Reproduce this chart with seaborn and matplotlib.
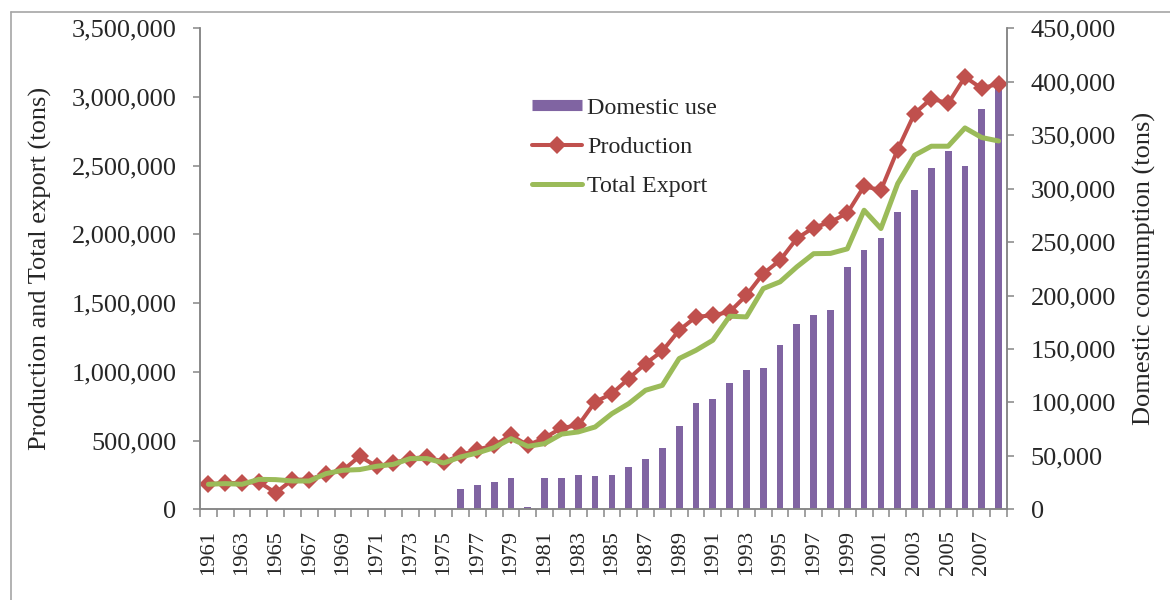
import matplotlib
matplotlib.use("Agg")
import matplotlib.pyplot as plt
from matplotlib.lines import Line2D
from matplotlib.ticker import FuncFormatter, FixedLocator
import seaborn as sns
import pandas as pd
import numpy as np

years = list(range(1961, 2009))

production = [
    182000, 191000, 191000, 199000, 120000, 216000, 216000, 260000, 284000, 386000,
    313000, 337000, 369000, 381000, 344000, 393000, 434000, 466000, 539000, 466000,
    520000, 592000, 611000, 781000, 842000, 951000, 1060000, 1152000, 1303000, 1400000,
    1412000, 1436000, 1557000, 1715000, 1812000, 1971000, 2050000, 2090000, 2155000, 2351000,
    2322000, 2618000, 2880000, 2989000, 2953000, 3146000, 3062000, 3098000,
]

total_export = [
    182000, 187000, 182000, 218000, 216000, 206000, 206000, 260000, 284000, 289000,
    313000, 327000, 369000, 369000, 337000, 381000, 410000, 449000, 514000, 458000,
    478000, 547000, 563000, 599000, 696000, 769000, 866000, 902000, 1097000, 1157000,
    1230000, 1405000, 1400000, 1606000, 1655000, 1764000, 1860000, 1862000, 1895000, 2176000,
    2043000, 2370000, 2576000, 2642000, 2642000, 2775000, 2705000, 2680000,
]

domestic_use = [
    0, 0, 0, 0, 0, 0, 0, 0, 0, 0, 0, 0, 0, 0, 0,
    19300, 22700, 25500, 29000, 2400, 29000, 29000, 31800, 31400, 32400,
    39300, 47000, 57000, 77600, 99200, 102900, 118200, 130300, 132200, 153400,
    173600, 181800, 186200, 226700, 242600, 253500, 278400, 298700, 319000, 335500,
    321200, 374200, 393800,
]

PURPLE = "#8064A2"
RED = "#C0504D"
GREEN = "#9BBB59"
AXIS_GREY = "#868686"

df = pd.DataFrame({
    "year": [str(y) for y in years],
    "pos": np.arange(len(years)),
    "Production": production,
    "Total Export": total_export,
    "Domestic use": domestic_use,
})

sns.set_style("white")
plt.rcParams["font.family"] = ["Liberation Serif", "DejaVu Serif"]

fig = plt.figure(figsize=(11.7, 6.0), dpi=100)
ax = fig.add_axes([200 / 1170, 1 - 509.3 / 600, 807 / 1170, 481 / 600])

# Domestic consumption bars (right-hand scale), drawn first so lines sit on top
sns.barplot(data=df, x="year", y="Domestic use", ax=ax, color=PURPLE,
            saturation=1, width=0.4, linewidth=0)

ax2 = ax.twinx()
sns.lineplot(data=df, x="pos", y="Production", ax=ax2, color=RED, linewidth=2.9,
             marker="D", markersize=8.7, markeredgewidth=0, legend=False)
sns.lineplot(data=df, x="pos", y="Total Export", ax=ax2, color=GREEN, linewidth=3.6,
             legend=False)

# Bars belong to the right axis, lines to the left axis
ax.yaxis.tick_right()
ax.yaxis.set_label_position("right")
ax2.yaxis.tick_left()
ax2.yaxis.set_label_position("left")

ax.set_xlim(-0.5, len(years) - 0.5)
ax.set_ylim(0, 450000)
ax.set_yticks(np.arange(0, 450001, 50000))
ax2.set_ylim(0, 3500000)
ax2.set_yticks(np.arange(0, 3500001, 500000))

fmt = FuncFormatter(lambda v, p: f"{v:,.0f}")
ax.yaxis.set_major_formatter(fmt)
ax2.yaxis.set_major_formatter(fmt)

# Year labels every other category, tick marks on category boundaries
label_pos = list(range(0, len(years), 2))
ax.xaxis.set_major_locator(FixedLocator(label_pos))
ax.set_xticklabels([str(years[i]) for i in label_pos], rotation=90, fontsize=16.2)
ax.xaxis.set_minor_locator(FixedLocator(np.arange(-0.5, len(years), 1.0)))
ax.tick_params(axis="x", which="major", length=0, pad=15)
ax.tick_params(axis="x", which="minor", length=7.5 * 0.72, width=1.1, color=AXIS_GREY,
               direction="out", bottom=True)
ax.set_xlabel("")

for a in (ax, ax2):
    a.tick_params(axis="y", which="major", length=5, width=1.1, color=AXIS_GREY,
                  direction="out", labelsize=19, pad=12)
    a.grid(False)
    a.spines["top"].set_visible(False)
    for s in ("left", "right", "bottom"):
        a.spines[s].set_color(AXIS_GREY)
        a.spines[s].set_linewidth(1.1)

ax.set_ylabel("Domestic consumption (tons)", fontsize=19, rotation=90)
ax2.set_ylabel("Production and Total export (tons)", fontsize=19)
ax.yaxis.set_label_coords(1.156, 0.5)
ax2.yaxis.set_label_coords(-0.1834, 0.5)

handles = [
    Line2D([0], [0], color=PURPLE, linewidth=8, solid_capstyle="butt"),
    Line2D([0], [0], color=RED, linewidth=2.9, marker="D", markersize=8.7,
           markeredgewidth=0, solid_capstyle="round"),
    Line2D([0], [0], color=GREEN, linewidth=3.6, solid_capstyle="round"),
]
fig.legend(handles, ["Domestic use", "Production", "Total Export"],
           loc="upper left", bbox_to_anchor=(532 / 1170, 1 - 97 / 600),
           frameon=False, fontsize=17.3, handlelength=2.1, handletextpad=0.2,
           labelspacing=0.72, borderpad=0, borderaxespad=0)

# Chart-area frame
fig.add_artist(Line2D([10.5 / 1170, 1], [1 - 11.5 / 600] * 2, transform=fig.transFigure,
                      color="#A6A6A6", linewidth=1.2))
fig.add_artist(Line2D([10.5 / 1170] * 2, [0, 1 - 11.5 / 600], transform=fig.transFigure,
                      color="#A6A6A6", linewidth=1.2))

fig.savefig("out.png", dpi=100)
